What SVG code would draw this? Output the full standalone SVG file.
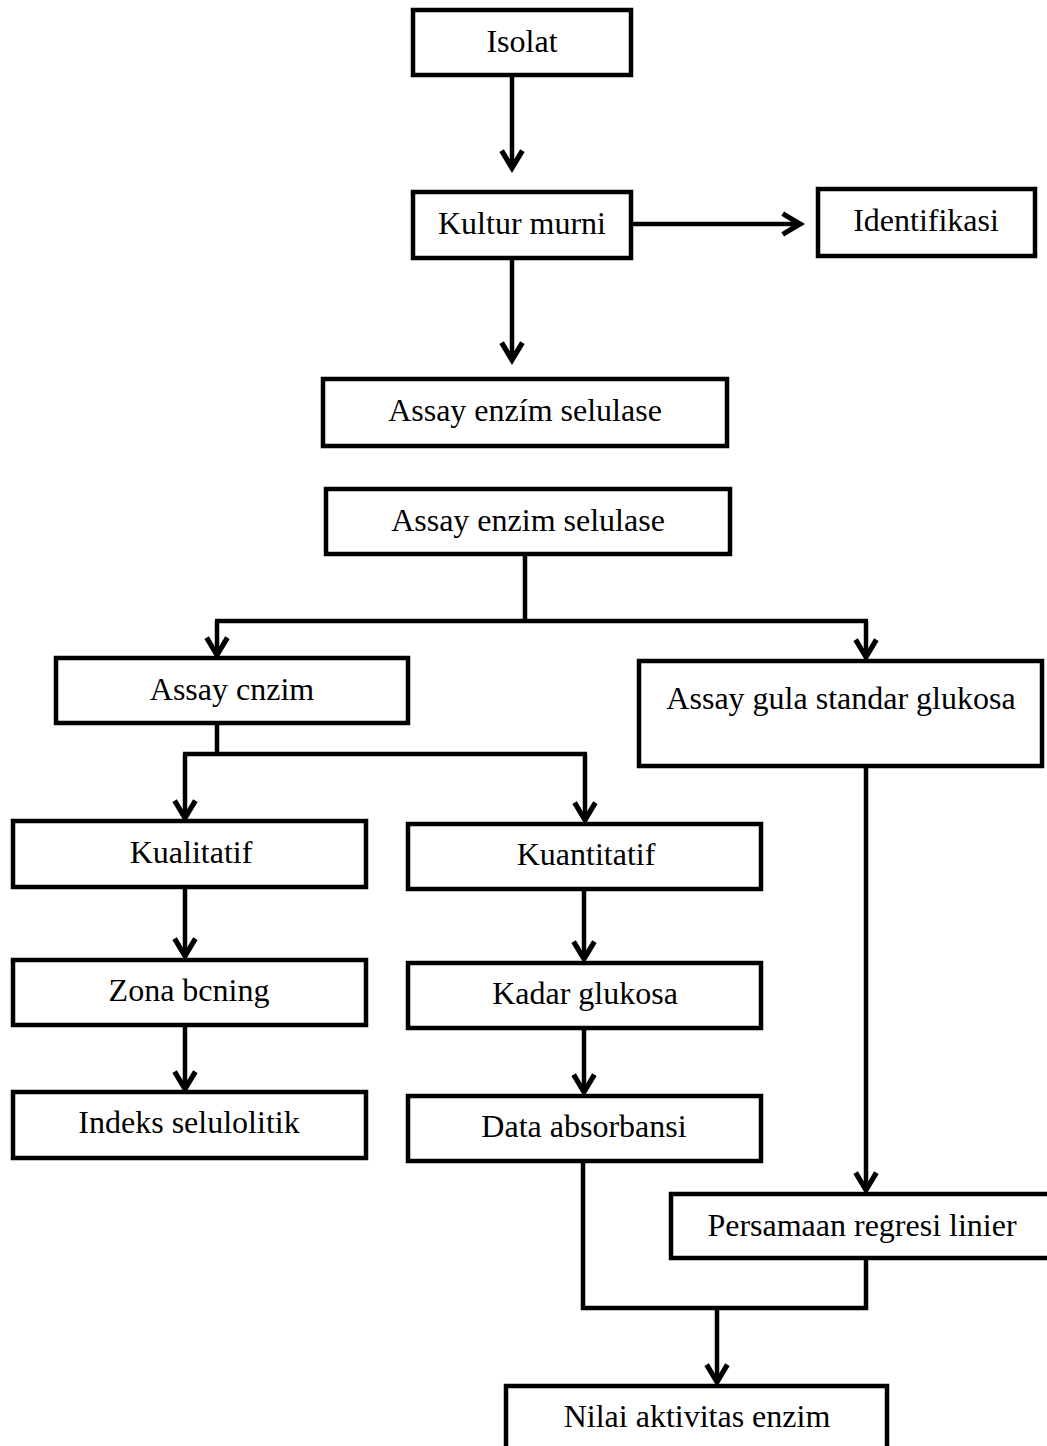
<svg xmlns="http://www.w3.org/2000/svg" width="1047" height="1446" viewBox="0 0 1047 1446">
<style>
.box{fill:#fff;stroke:#000;stroke-width:4.5}
.t{font-family:"Liberation Serif","Times New Roman",serif;font-size:32px;fill:#000;text-anchor:middle}
.c{fill:none;stroke:#000;stroke-width:4.5}
</style>
<defs>
<marker id="ah" markerUnits="userSpaceOnUse" markerWidth="30" markerHeight="30" viewBox="-20 -13 24 26" refX="0" refY="0" orient="auto">
<path d="M-15 -9 L0 0 L-15 9" fill="none" stroke="#000" stroke-width="4.5"/>
</marker>
</defs>
<rect width="1047" height="1446" fill="#fff"/>
<g id="connectors">
<path class="c" d="M512 76 V168" marker-end="url(#ah)"/>
<path class="c" d="M632 224 H800" marker-end="url(#ah)"/>
<path class="c" d="M512 259 V360" marker-end="url(#ah)"/>
<path class="c" d="M525 555 V621"/>
<path class="c" d="M215 621 H868"/>
<path class="c" d="M217 621 V655" marker-end="url(#ah)"/>
<path class="c" d="M866 621 V657" marker-end="url(#ah)"/>
<path class="c" d="M217 724 V754"/>
<path class="c" d="M183 754 H587"/>
<path class="c" d="M185 754 V818" marker-end="url(#ah)"/>
<path class="c" d="M585 754 V820" marker-end="url(#ah)"/>
<path class="c" d="M185 888 V956" marker-end="url(#ah)"/>
<path class="c" d="M185 1026 V1089" marker-end="url(#ah)"/>
<path class="c" d="M584 890 V959" marker-end="url(#ah)"/>
<path class="c" d="M584 1029 V1092" marker-end="url(#ah)"/>
<path class="c" d="M866 767 V1190" marker-end="url(#ah)"/>
<path class="c" d="M583 1162 V1308 H866 V1259"/>
<path class="c" d="M717 1308 V1382" marker-end="url(#ah)"/>
</g>
<g id="n-isolat"><rect class="box" x="413" y="10" width="218" height="65"/><text class="t" x="522" y="52">Isolat</text></g>
<g id="n-kultur"><rect class="box" x="413" y="192" width="218" height="66"/><text class="t" x="522" y="234">Kultur murni</text></g>
<g id="n-identifikasi"><rect class="box" x="818" y="189" width="217" height="67"/><text class="t" x="926" y="231">Identifikasi</text></g>
<g id="n-assay1"><rect class="box" x="323" y="379" width="404" height="67"/><text class="t" x="525" y="421">Assay enzím selulase</text></g>
<g id="n-assay2"><rect class="box" x="326" y="489" width="404" height="65"/><text class="t" x="528" y="531">Assay enzim selulase</text></g>
<g id="n-assaycnzim"><rect class="box" x="56" y="658" width="352" height="65"/><text class="t" x="232" y="700">Assay cnzim</text></g>
<g id="n-assaygula"><rect class="box" x="639" y="661" width="403" height="105"/><text class="t" x="841" y="709">Assay gula standar glukosa</text></g>
<g id="n-kualitatif"><rect class="box" x="13" y="821" width="353" height="66"/><text class="t" x="191" y="863">Kualitatif</text></g>
<g id="n-kuantitatif"><rect class="box" x="408" y="824" width="353" height="65"/><text class="t" x="586" y="865">Kuantitatif</text></g>
<g id="n-zona"><rect class="box" x="13" y="960" width="353" height="65"/><text class="t" x="189" y="1001">Zona bcning</text></g>
<g id="n-kadar"><rect class="box" x="408" y="963" width="353" height="65"/><text class="t" x="585" y="1004">Kadar glukosa</text></g>
<g id="n-indeks"><rect class="box" x="13" y="1092" width="353" height="66"/><text class="t" x="189" y="1133">Indeks selulolitik</text></g>
<g id="n-data"><rect class="box" x="408" y="1096" width="353" height="65"/><text class="t" x="584" y="1137">Data absorbansi</text></g>
<g id="n-persamaan"><rect class="box" x="671" y="1194" width="390" height="64"/><text class="t" x="862" y="1236">Persamaan regresi linier</text></g>
<g id="n-nilai"><rect class="box" x="506" y="1386" width="381" height="80"/><text class="t" x="697" y="1427">Nilai aktivitas enzim</text></g>
</svg>
